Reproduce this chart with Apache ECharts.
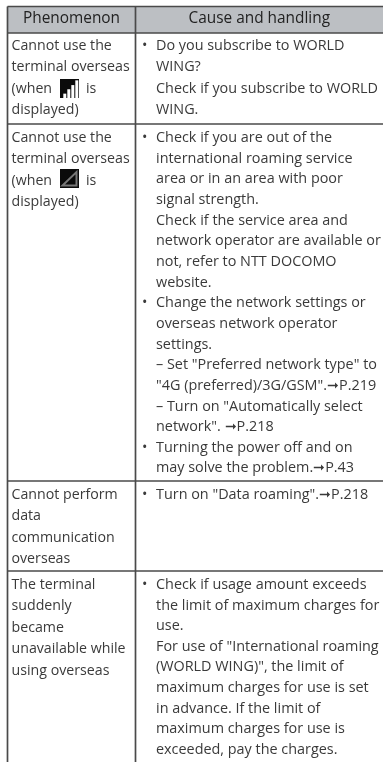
<!DOCTYPE html>
<html><head><meta charset="utf-8">
<style>html,body{margin:0;padding:0;background:#fff}#c{width:383px;height:762px}</style>
<script src="https://cdn.jsdelivr.net/npm/echarts@6/dist/echarts.min.js"></script>
</head><body><div id="c"></div>
<script>
var headers = ["Phenomenon", "Cause and handling"];
var phenomena = [
  ["Cannot use the", "terminal overseas", "(when", "displayed)"],
  ["Cannot use the", "terminal overseas", "(when", "displayed)"],
  ["Cannot perform", "data", "communication", "overseas"],
  ["The terminal", "suddenly", "became", "unavailable while", "using overseas"]
];
var iconSuffix = "is";
var causes = [
  ["• Do you subscribe to WORLD", "WING?", "Check if you subscribe to WORLD", "WING."],
  ["• Check if you are out of the", "international roaming service", "area or in an area with poor", "signal strength.",
   "Check if the service area and", "network operator are available or", "not, refer to NTT DOCOMO", "website.",
   "• Change the network settings or", "overseas network operator", "settings.",
   "– Set \"Preferred network type\" to", "\"4G (preferred)/3G/GSM\".➞P.219", "– Turn on \"Automatically select", "network\". ➞P.218",
   "• Turning the power off and on", "may solve the problem.➞P.43"],
  ["• Turn on \"Data roaming\".➞P.218"],
  ["• Check if usage amount exceeds", "the limit of maximum charges for", "use.", "For use of \"International roaming", "(WORLD WING)\", the limit of",
   "maximum charges for use is set", "in advance. If the limit of", "maximum charges for use is", "exceeded, pay the charges."]
];
// layout of the table, in page pixels
var W = 383, H = 762;
var L = 7.5, DIV = 135.5, TOP = 6.5, HEAD = 33;
var rowBottoms = [124, 481, 571, 762];
var rowFirstLine = [46, 138, 495, 585];
var iconTops = [79, 169];
var leftPitch = 21.4, rightPitches = [21.4, 20.65, 20.6, 20.6];
var FONT = '"Open Sans"', FS_LEFT = 14.2, FS_RIGHT = 14.4, INK = '#3a3a3a', RULE = '#4a4a4a';
var barHeights = [0.23, 0.46, 0.68, 0.93];

function textEl(api, x, y, s, align, size, color) {
  var p = api.coord([x, y]);
  return {type:'text', style:{x:p[0], y:p[1], text:s, fill:color||INK, align:align||'left', verticalAlign:'middle',
    font:size+'px '+FONT}};
}
function render(params, api) {
  var ch = [];
  ch.push({type:'rect', shape:{x:L,y:TOP,width:W-L,height:HEAD-TOP}, style:{fill:'#bcbfc3'}});
  ch.push(textEl(api, (L+DIV)/2, 19, headers[0], 'center', 15.4, '#222'));
  ch.push(textEl(api, (DIV+W)/2, 19, headers[1], 'center', 15.4, '#222'));
  [TOP, HEAD].concat(rowBottoms.slice(0,3)).forEach(function(y){
    ch.push({type:'line', shape:{x1:L,y1:y,x2:W,y2:y}, style:{stroke:RULE,lineWidth:1.5}});
  });
  ch.push({type:'line', shape:{x1:L,y1:TOP,x2:L,y2:H}, style:{stroke:RULE,lineWidth:1.7}});
  ch.push({type:'line', shape:{x1:DIV,y1:TOP,x2:DIV,y2:H}, style:{stroke:RULE,lineWidth:1.7}});
  var iconIndex = 0;
  phenomena.forEach(function(lines, r){
    lines.forEach(function(s, i){
      var y = rowFirstLine[r] + i*leftPitch;
      ch.push(textEl(api, 11.5, y, s, 'left', FS_LEFT));
      if (s === '(when') {
        ch.push(textEl(api, 86, y, iconSuffix, 'left', FS_LEFT));
        var ix=60, iy=iconTops[iconIndex++], sz=19;
        ch.push({type:'rect', shape:{x:ix,y:iy,width:sz,height:sz}, style:{fill:'#0b0b0b'}});
        if (r===0) {
          barHeights.forEach(function(h,k){
            var bh=sz*h;
            ch.push({type:'rect', shape:{x:ix+3.3+k*4,y:iy+sz-bh,width:3,height:bh}, style:{fill:'#fff'}});
          });
        } else {
          ch.push({type:'polygon', shape:{points:[[ix+2.5,iy+sz-2.5],[ix+sz-2.5,iy+sz-2.5],[ix+sz-2.5,iy+3]]}, style:{fill:'none',stroke:'#777',lineWidth:2}});
        }
      }
    });
  });
  causes.forEach(function(lines, r){
    lines.forEach(function(s, i){
      var y = rowFirstLine[r] + i*rightPitches[r], x = 156;
      if (s.charAt(0)==='•') { ch.push(textEl(api, 142, y, '•', 'left', FS_RIGHT)); s = s.slice(2); }
      ch.push(textEl(api, x, y, s, 'left', FS_RIGHT));
    });
  });
  return {type:'group', children:ch};
}
var chart = echarts.init(document.getElementById('c'), null, {renderer:'canvas'});
chart.setOption({
  animation:false,
  grid:{left:0,right:0,top:0,bottom:0},
  xAxis:{type:'value',min:0,max:W,show:false},
  yAxis:{type:'value',min:0,max:H,inverse:true,show:false},
  series:[{type:'custom',coordinateSystem:'cartesian2d',renderItem:render,data:[[0,0]],silent:true}]
});
</script></body></html>
